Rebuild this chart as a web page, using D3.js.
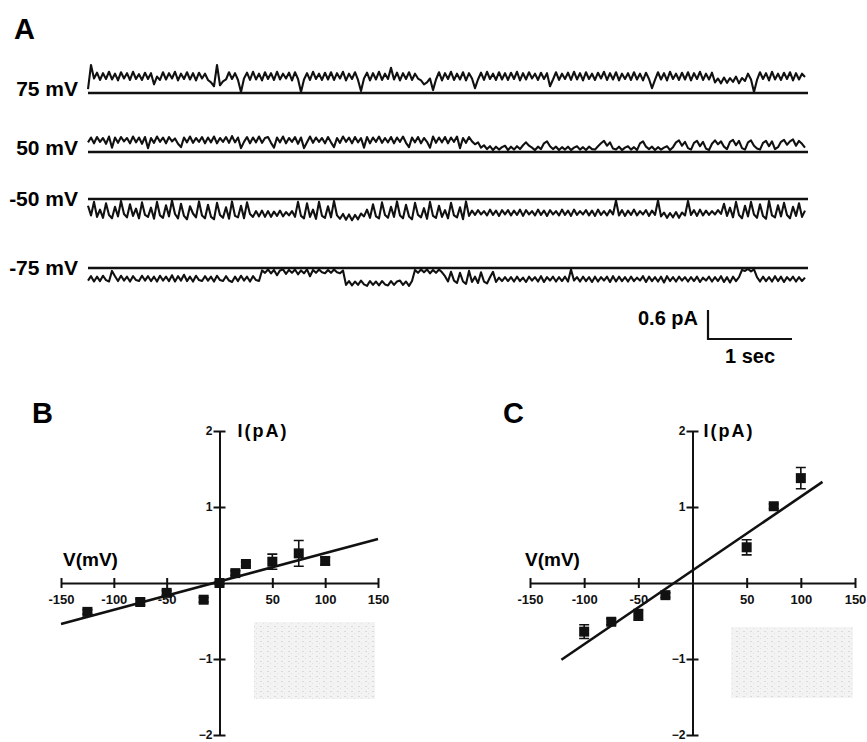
<!DOCTYPE html>
<html>
<head>
<meta charset="utf-8">
<title>single channel traces and I-V</title>
<script src="https://cdn.jsdelivr.net/npm/d3@7/dist/d3.min.js"></script>
<style>
  *{margin:0;padding:0;}
  body{background:#fff;}
  svg{display:block;font-family:"Liberation Sans",Arial,sans-serif;font-weight:bold;}
</style>
</head>
<body>
<div id="show"></div>
<script>
// ---- panel A : current traces, in 0.01 pA above/below the closed level, 28 samples per sec
var trace75 = [
  8,58,30,42,27,41,29,44,28,40,26,43,30,41,27,44,29,39,27,42,
  29,41,18,34,27,43,28,41,30,44,26,40,29,43,28,41,26,42,30,40,
  27,22,14,58,16,24,28,43,29,41,27,2,30,42,27,44,28,40,26,43,
  29,41,27,44,28,40,30,42,26,43,29,2,28,41,27,44,29,40,27,42,
  28,43,27,41,30,44,26,40,29,43,27,4,30,42,26,41,28,44,27,40,
  29,52,28,42,26,41,29,43,27,40,30,26,18,22,30,6,28,43,26,41,
  29,44,27,40,28,43,26,41,30,10,28,42,27,44,29,40,27,43,28,41,
  27,42,29,44,26,41,28,43,30,40,27,42,29,41,14,28,43,27,40,29,
  42,27,44,28,41,26,43,29,40,27,42,30,44,27,41,28,43,26,40,29,
  41,27,43,28,40,26,42,29,10,27,43,28,41,26,44,29,40,27,42,28,
  43,26,41,29,44,27,40,28,42,22,30,20,32,21,31,23,34,20,31,25,
  40,28,2,27,43,29,41,26,44,28,40,27,42,29,43,26,41,28,40,33
];
var trace50 = [
  20,30,18,31,21,29,17,32,9,30,19,31,22,29,18,32,20,30,17,31,
  8,29,19,32,21,30,18,31,22,28,17,10,30,20,32,19,29,21,31,18,
  30,20,32,18,29,21,31,19,33,20,30,8,21,31,18,30,20,32,19,29,
  31,19,9,30,20,32,18,29,21,31,17,30,8,20,32,19,30,21,29,18,
  31,20,10,29,19,32,21,30,18,31,20,29,9,31,18,30,21,32,19,29,
  20,31,18,30,21,32,19,10,30,20,31,18,29,21,9,32,19,30,20,31,
  18,30,21,32,8,29,19,31,22,16,20,9,14,6,12,4,11,5,10,13,
  4,11,5,12,6,14,20,13,9,4,11,6,18,22,12,6,11,4,10,5,
  11,4,9,12,5,10,4,11,6,5,12,18,23,13,20,7,5,11,4,9,
  12,5,10,4,18,22,11,6,11,4,10,5,9,12,4,10,20,24,13,21,
  8,5,19,23,12,21,7,4,17,24,16,22,11,6,21,25,14,23,8,5,
  20,24,13,7,5,19,23,12,22,6,10,21,25,15,22,26,13,23,17,9
];
var traceM50 = [
  -14,-34,-6,-37,-22,-39,-9,-33,-40,-16,-36,-4,-31,-38,-11,-35,-20,-40,-7,-33,
  -37,-18,-41,-6,-34,-39,-13,-36,-3,-31,-40,-10,-35,-42,-15,-30,-38,-5,-34,-40,
  -12,-37,-42,-8,-33,-39,-17,-41,-5,-35,-38,-14,-40,-7,-31,-37,-25,-36,-24,-37,
  -25,-37,-26,-35,-24,-36,-27,-34,-25,-37,-6,-35,-40,-9,-37,-22,-41,-6,-35,-39,
  -15,-38,-4,-34,-41,-31,-43,-32,-44,-33,-42,-30,-36,-22,-39,-11,-36,-40,-7,-33,
  -39,-16,-37,-5,-34,-40,-12,-36,-42,-8,-33,-38,-19,-41,-6,-35,-39,-14,-37,-23,
  -40,-8,-34,-38,-17,-42,-5,-35,-24,-33,-23,-32,-25,-34,-22,-33,-24,-35,-23,-32,
  -23,-34,-24,-33,-22,-35,-23,-32,-25,-34,-22,-33,-24,-35,-23,-32,-25,-34,-22,-33,
  -24,-35,-22,-33,-25,-32,-23,-34,-24,-35,-22,-33,-25,-34,-23,-32,-3,-34,-23,-35,
  -24,-33,-22,-34,-25,-32,-23,-35,-24,-33,-3,-36,-28,-39,-29,-38,-27,-39,-28,-34,
  -4,-33,-23,-35,-22,-34,-24,-33,-25,-32,-23,-31,-10,-35,-18,-38,-6,-33,-40,-14,
  -36,-6,-32,-39,-11,-35,-41,-4,-34,-38,-13,-36,-8,-33,-40,-16,-35,-9,-37,-24
];
var traceM75 = [
  -26,-17,-28,-18,-27,-16,-25,-28,-6,-17,-27,-16,-26,-18,-28,-17,-25,-27,-16,-26,
  -17,-27,-18,-28,-16,-26,-18,-27,-15,-28,-17,-26,-14,-27,-18,-28,-16,-25,-27,-17,
  -26,-18,-28,-16,-25,-27,-17,-26,-29,-18,-27,-16,-26,-18,-28,-17,-25,-27,-5,-10,
  -3,-11,-4,-15,-5,-3,-12,-4,-10,-3,-13,-5,-11,-3,-17,-4,-10,-3,-9,-11,
  -4,-10,-3,-9,-11,-5,-35,-27,-36,-28,-35,-26,-34,-37,-27,-35,-28,-36,-27,-34,
  -36,-27,-35,-28,-26,-35,-28,-37,-27,-4,-10,-3,-9,-3,-11,-4,-10,-3,-9,-17,
  -28,-8,-26,-31,-10,-28,-33,-6,-29,-18,-31,-9,-28,-32,-19,-8,-29,-20,-27,-19,
  -27,-19,-28,-18,-27,-20,-29,-18,-26,-19,-28,-17,-29,-19,-26,-18,-28,-19,-27,-18,
  -28,-3,-26,-19,-28,-18,-27,-19,-29,-18,-28,-19,-26,-18,-29,-17,-28,-18,-27,-19,
  -28,-18,-27,-20,-26,-17,-29,-18,-27,-19,-28,-18,-30,-17,-27,-19,-28,-18,-26,-19,
  -28,-19,-27,-18,-29,-20,-26,-18,-28,-19,-27,-17,-29,-19,-30,-18,-27,-19,-4,-6,
  -2,-7,-3,-19,-28,-18,-27,-19,-28,-17,-27,-18,-29,-19,-26,-18,-28,-19,-27,-20
];
var traceLabels = ["75 mV", "50 mV", "-50 mV", "-75 mV"];
var samplesPerSec = 28;
var barPA = 0.6, barSec = 1;

// ---- panel B : I-V
var ivB_v   = [-125, -75, -50, -15, 0, 15, 25, 50, 75, 100];
var ivB_i   = [-0.38, -0.25, -0.13, -0.22, 0, 0.13, 0.25, 0.28, 0.39, 0.29];
var ivB_err = [0.03, 0.04, 0.03, 0.03, 0.02, 0.03, 0.03, 0.10, 0.17, 0.05];
var fitB_v  = [-150, 150];
var fitB_i  = [-0.54, 0.58];

// ---- panel C : I-V
var ivC_v   = [-100, -75, -50, -25, 50, 75, 100];
var ivC_i   = [-0.64, -0.51, -0.42, -0.16, 0.47, 1.01, 1.38];
var ivC_err = [0.09, 0.04, 0.07, 0.03, 0.10, 0.03, 0.14];
var fitC_v  = [-121, 120];
var fitC_i  = [-1.01, 1.33];

var vTicks = [-150, -100, -50, 0, 50, 100, 150];
var iTicks = [-2, -1, 1, 2];

var svg = d3.select("#show").append("svg")
            .attr("width", 867).attr("height", 742);

// light speckled patches left over from the scan
var pat = svg.append("defs").append("pattern").attr("id", "speck")
             .attr("width", 7).attr("height", 5).attr("patternUnits", "userSpaceOnUse");
pat.append("rect").attr("width", 7).attr("height", 5).attr("fill", "#f3f3f3");
pat.append("rect").attr("x", 1).attr("y", 1).attr("width", 2).attr("height", 1).attr("fill", "#dadada");
pat.append("rect").attr("x", 4).attr("y", 3).attr("width", 1).attr("height", 1).attr("fill", "#e0e0e0");
svg.append("rect").attr("x", 254).attr("y", 622).attr("width", 121).attr("height", 77).attr("fill", "url(#speck)");
svg.append("rect").attr("x", 731).attr("y", 627).attr("width", 122).attr("height", 71).attr("fill", "url(#speck)");

function panelLetter(t, x, y){
  svg.append("text").attr("x", x).attr("y", y).attr("font-size", 29).text(t);
}

// ---------------- A
panelLetter("A", 14, 39);
var traces = [trace75, trace50, traceM50, traceM75];
var rowY = [93, 152, 199, 268];
var tEnd = trace75.length / samplesPerSec;
var xT = d3.scaleLinear().domain([0, tEnd]).range([88, 808]);
var amp = d3.scaleLinear().domain([0, 1]).range([0, 48.3]);   // pA -> px

traces.forEach(function(tr, k){
  var base = rowY[k];
  svg.append("line")
     .attr("x1", xT(0)).attr("x2", xT(tEnd))
     .attr("y1", base).attr("y2", base)
     .attr("stroke", "#111").attr("stroke-width", 2.5);
  var line = d3.line()
     .x(function(d, i){ return xT(i / samplesPerSec); })
     .y(function(d){ return base - amp(d / 100); });
  svg.append("path").datum(tr).attr("d", line)
     .attr("fill", "none").attr("stroke", "#111").attr("stroke-width", 2.1)
     .attr("stroke-linejoin", "round");
  var neg = d3.mean(tr) < 0;
  svg.append("text").attr("x", 78).attr("y", base + (neg ? 7 : 3))
     .attr("text-anchor", "end").attr("font-size", 21).text(traceLabels[k]);
});

// scale bar
var sbX = 708, sbY = 339;
svg.append("path")
   .attr("d", "M" + sbX + "," + (sbY - amp(barPA)) + "V" + sbY + "H" + (sbX + xT(barSec) - xT(0)))
   .attr("fill", "none").attr("stroke", "#111").attr("stroke-width", 2.2);
svg.append("text").attr("x", sbX - 10).attr("y", 325).attr("text-anchor", "end")
   .attr("font-size", 20).text(barPA + " pA");
svg.append("text").attr("x", sbX + (xT(barSec) - xT(0)) / 2).attr("y", 363).attr("text-anchor", "middle")
   .attr("font-size", 20).text(barSec + " sec");

// ---------------- B and C
function ivPanel(cfg){
  var x = d3.scaleLinear().domain([-150, 150]).range([cfg.x0, cfg.x1]);
  var y = d3.scaleLinear().domain([-2, 2]).range([735, 431]);
  var g = svg.append("g");

  var xa = g.append("g").attr("transform", "translate(0," + y(0) + ")")
     .call(d3.axisBottom(x).tickValues(vTicks).tickSizeOuter(0)
           .tickFormat(function(d){ return d === 0 ? "" : d; }));
  xa.select(".domain").attr("stroke", "#111").attr("stroke-width", 2);
  xa.selectAll(".tick line").attr("y1", -5).attr("y2", 5).attr("stroke", "#111").attr("stroke-width", 2);
  xa.selectAll(".tick text").attr("y", 12).attr("font-size", 13).attr("font-weight", "bold")
     .attr("font-family", "Liberation Sans, Arial, sans-serif").attr("fill", "#111");

  var ya = g.append("g").attr("transform", "translate(" + x(0) + ",0)")
     .call(d3.axisLeft(y).tickValues(iTicks).tickSizeOuter(0).tickFormat(d3.format("d")));
  ya.select(".domain").attr("stroke", "#111").attr("stroke-width", 2);
  ya.selectAll(".tick line").attr("x1", -6).attr("x2", 6).attr("stroke", "#111").attr("stroke-width", 2);
  ya.selectAll(".tick text").attr("x", -7).attr("font-size", 12).attr("font-weight", "bold")
     .attr("font-family", "Liberation Sans, Arial, sans-serif").attr("fill", "#111");

  g.append("text").attr("x", x(0) + cfg.iOff).attr("y", 437).attr("font-size", 18)
   .attr("letter-spacing", 2).text("I(pA)");
  g.append("text").attr("x", cfg.vx).attr("y", 566).attr("font-size", 19).text("V(mV)");

  // fit line
  var fit = cfg.fitV.map(function(v, i){ return [v, cfg.fitI[i]]; });
  g.append("path").datum(fit)
   .attr("d", d3.line().x(function(d){ return x(d[0]); }).y(function(d){ return y(d[1]); }))
   .attr("stroke", "#111").attr("stroke-width", 2.6).attr("fill", "none");

  var pts = cfg.v.map(function(v, i){ return {v: v, i: cfg.i[i], e: cfg.err[i]}; });
  var pg = g.selectAll(".pt").data(pts).enter().append("g").attr("class", "pt");
  pg.append("path").attr("d", function(d){
      var cx = x(d.v), hi = y(d.i + d.e), lo = y(d.i - d.e);
      return "M" + (cx - 5) + "," + hi + "H" + (cx + 5) + "M" + cx + "," + hi + "V" + lo +
             "M" + (cx - 5) + "," + lo + "H" + (cx + 5);
    }).attr("stroke", "#111").attr("stroke-width", 1.6).attr("fill", "none");
  pg.append("rect")
    .attr("x", function(d){ return x(d.v) - 5; })
    .attr("y", function(d){ return y(d.i) - 5; })
    .attr("width", 10).attr("height", 10).attr("fill", "#111");
}

panelLetter("B", 32, 423);
ivPanel({x0: 61, x1: 378, iOff: 18, vx: 63, v: ivB_v, i: ivB_i, err: ivB_err, fitV: fitB_v, fitI: fitB_i});
panelLetter("C", 503, 423);
ivPanel({x0: 530, x1: 855, iOff: 11, vx: 525, v: ivC_v, i: ivC_i, err: ivC_err, fitV: fitC_v, fitI: fitC_i});
</script>
</body>
</html>
